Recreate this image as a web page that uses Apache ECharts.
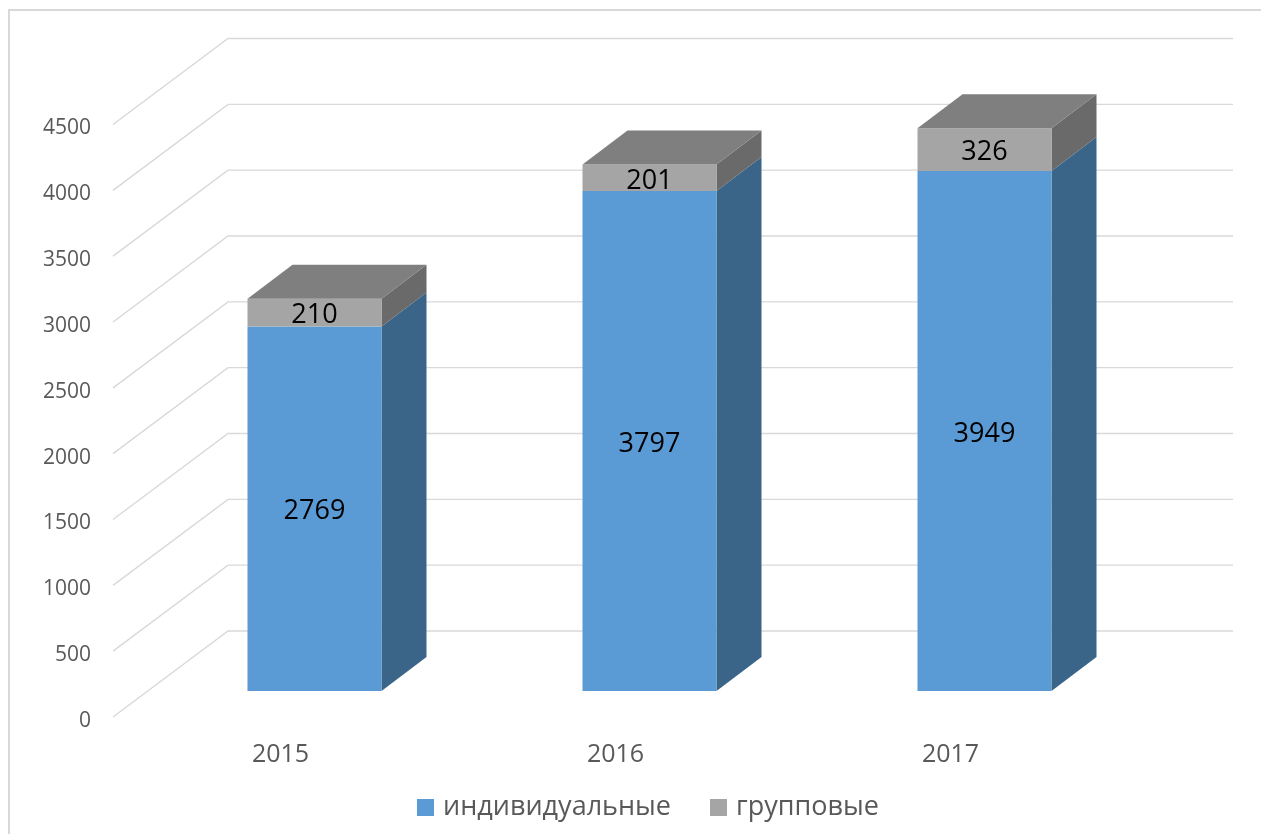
<!DOCTYPE html>
<html>
<head>
<meta charset="utf-8">
<title>chart</title>
<script src="https://cdn.jsdelivr.net/npm/echarts@6/dist/echarts.min.js"></script>
<style>
    html, body { margin: 0; padding: 0; background: #fff; }
    #chart { width: 1261px; height: 834px; }
</style>
</head>
<body>
<div id="chart"></div>
<script>
// данные
const years = ['2015', '2016', '2017'];
const individual = [2769, 3797, 3949];
const group = [210, 201, 326];
const ticks = [0, 500, 1000, 1500, 2000, 2500, 3000, 3500, 4000, 4500];

const nameIndividual = 'индивидуальные';
const nameGroup = 'групповые';

// псевдо-3D: смещение задней стенки и столбца в пикселях
const wallDx = 115, wallDy = -86;
const barOffX = 34, barOffY = -26;
const barDx = 45, barDy = -34;
const font = '"Open Sans", sans-serif';
const gridColor = '#d9d9d9';

const chart = echarts.init(document.getElementById('chart'));

// сетка: горизонталь на задней стенке и диагональ к передней плоскости
function renderWall(params, api) {
    const v = api.value(0);
    const y = api.coord([0, v])[1];
    const left = params.coordSys.x;
    const right = left + params.coordSys.width;
    return {
        type: 'polyline',
        silent: true,
        shape: { points: [[left, y], [left + wallDx, y + wallDy], [right + wallDx, y + wallDy]] },
        style: { stroke: gridColor, lineWidth: 1.4, fill: null }
    };
}

// один сегмент столбца: передняя и боковая грани, у верхнего ещё крышка
function makeBar(colors, hasTop) {
    return function (params, api) {
        const c = api.coord([api.value(0), api.value(1)]);
        const e = api.coord([api.value(0), api.value(2)]);
        const w = api.size([1, 0])[0] * 0.4;
        const x0 = c[0] - w / 2 + barOffX;
        const x1 = x0 + w;
        const yb = c[1] + barOffY;
        const yt = e[1] + barOffY;
        const children = [
            {
                type: 'polygon',
                shape: { points: [[x1, yb], [x1 + barDx, yb + barDy], [x1 + barDx, yt + barDy], [x1, yt]] },
                style: { fill: colors.side }
            },
            {
                type: 'rect',
                shape: { x: x0, y: yt, width: w, height: yb - yt },
                style: { fill: colors.front }
            }
        ];
        if (hasTop) {
            children.push({
                type: 'polygon',
                shape: { points: [[x0, yt], [x0 + barDx, yt + barDy], [x1 + barDx, yt + barDy], [x1, yt]] },
                style: { fill: colors.top }
            });
        }
        children.push({
            type: 'text',
            style: {
                x: (x0 + x1) / 2,
                y: (yb + yt) / 2 + 3,
                text: String(api.value(2) - api.value(1)),
                fill: '#000',
                font: '27px ' + font,
                textAlign: 'center',
                textVerticalAlign: 'middle'
            }
        });
        return { type: 'group', children };
    };
}

const option = {
    animation: false,
    backgroundColor: '#fff',
    graphic: [{
        type: 'polyline',
        silent: true,
        shape: { points: [[9, 834], [9, 10], [1261, 10]] },
        style: { stroke: gridColor, lineWidth: 2, fill: null }
    }],
    grid: { left: 113, top: 124.5, width: 1005, height: 592.5 },
    legend: {
        left: 412,
        top: 789,
        icon: 'rect',
        itemWidth: 17,
        itemHeight: 17,
        itemGap: 39,
        data: [nameIndividual, nameGroup],
        textStyle: { color: '#595959', fontFamily: font, fontSize: 27, padding: [0, 0, 0, 4] }
    },
    xAxis: {
        type: 'category',
        data: years,
        axisLine: { show: false },
        axisTick: { show: false },
        axisLabel: { color: '#595959', fontFamily: font, fontSize: 25, margin: 25 }
    },
    yAxis: {
        type: 'value',
        min: 0,
        max: 4500,
        interval: 500,
        splitLine: { show: false },
        axisLine: { show: false },
        axisTick: { show: false },
        axisLabel: {
            margin: 22,
            formatter: v => '{t|' + v + '}',
            // подпись чуть ниже линии сетки, как в оригинале
            rich: {
                t: { color: '#595959', fontFamily: font, fontSize: 21, padding: [8, 0, 0, 0] }
            }
        }
    },
    series: [
        {
            type: 'custom',
            name: 'grid',
            z: 1,
            silent: true,
            renderItem: renderWall,
            encode: { y: 0 },
            data: ticks.map(v => [v])
        },
        {
            type: 'custom',
            name: nameIndividual,
            z: 2,
            itemStyle: { color: '#5b9bd5' },
            renderItem: makeBar({ front: '#5b9bd5', side: '#3a6488' }, false),
            encode: { x: 0, y: [1, 2] },
            data: individual.map((v, i) => [i, 0, v])
        },
        {
            type: 'custom',
            name: nameGroup,
            z: 3,
            itemStyle: { color: '#a5a5a5' },
            renderItem: makeBar({ front: '#a5a5a5', side: '#6a6a6a', top: '#7f7f7f' }, true),
            encode: { x: 0, y: [1, 2] },
            data: group.map((v, i) => [i, individual[i], individual[i] + v])
        }
    ]
};
chart.setOption(option);
</script>
</body>
</html>
